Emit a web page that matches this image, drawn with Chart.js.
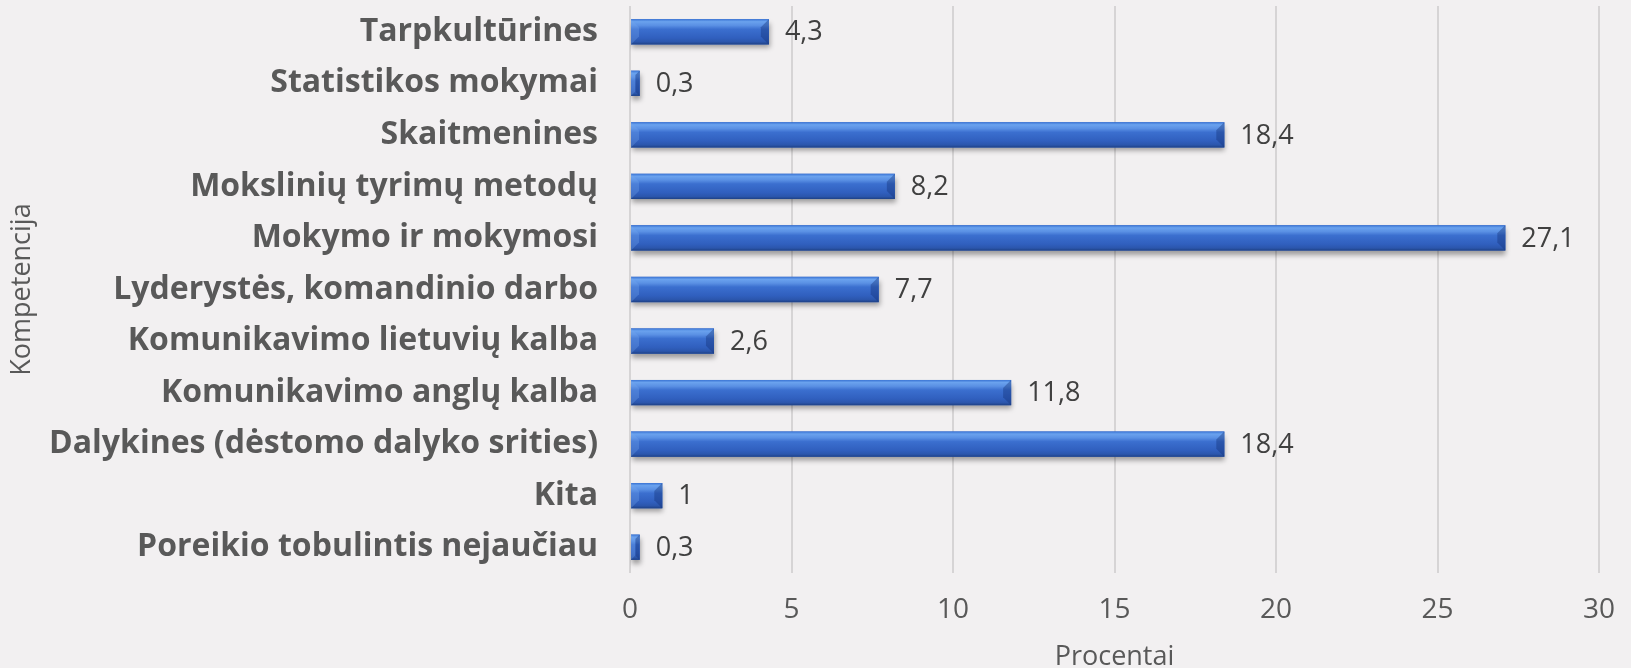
<!DOCTYPE html>
<html lang="lt">
<head>
<meta charset="UTF-8">
<title>Kompetencijos</title>
<script src="https://cdn.jsdelivr.net/npm/chart.js"></script>
<style>
    html, body { margin: 0; padding: 0; background: #f2f0f1; }
    #wrap { width: 1631px; height: 668px; }
</style>
</head>
<body>
<div id="wrap"><canvas id="chart" width="1631" height="668"></canvas></div>
<script>
    // categories top to bottom
    const categories = [
        'Tarpkultūrines',
        'Statistikos mokymai',
        'Skaitmenines',
        'Mokslinių tyrimų metodų',
        'Mokymo ir mokymosi',
        'Lyderystės, komandinio darbo',
        'Komunikavimo lietuvių kalba',
        'Komunikavimo anglų kalba',
        'Dalykines (dėstomo dalyko srities)',
        'Kita',
        'Poreikio tobulintis nejaučiau'
    ];
    const percents = [4.3, 0.3, 18.4, 8.2, 27.1, 7.7, 2.6, 11.8, 18.4, 1, 0.3];
    const xTicks = [0, 5, 10, 15, 20, 25, 30];

    const FONT = "'Open Sans', sans-serif";

    // shadow under the bars + bevel-ish gradient on top
    const bevelBars = {
        id: 'bevelBars',
        beforeDatasetsDraw(chart) {
            const ctx = chart.ctx;
            ctx.save();
            ctx.shadowColor = 'rgba(0,0,0,0.35)';
            ctx.shadowBlur = 5;
            ctx.shadowOffsetX = 1;
            ctx.shadowOffsetY = 4;
        },
        afterDatasetsDraw(chart) {
            const ctx = chart.ctx;
            ctx.restore();
            const meta = chart.getDatasetMeta(0);
            meta.data.forEach(el => {
                const p = el.getProps(['x', 'y', 'base', 'height'], true);
                const left = p.base, right = p.x;
                const top = p.y - p.height / 2, bottom = p.y + p.height / 2;
                const g = ctx.createLinearGradient(0, top, 0, bottom);
                g.addColorStop(0, '#3a74d4');
                g.addColorStop(0.1, '#6aa2ee');
                g.addColorStop(0.25, '#5a90e4');
                g.addColorStop(0.4, '#3b6fcf');
                g.addColorStop(0.75, '#305fbe');
                g.addColorStop(0.9, '#2b56ac');
                g.addColorStop(1, '#1e4186');
                ctx.save();
                ctx.fillStyle = g;
                ctx.fillRect(left, top, right - left, bottom - top);
                // end bevels
                const b = Math.min(8, (right - left) / 2);
                ctx.fillStyle = 'rgba(20,50,120,0.4)';
                ctx.beginPath();
                ctx.moveTo(right, top);
                ctx.lineTo(right, bottom);
                ctx.lineTo(right - b, bottom - b);
                ctx.lineTo(right - b, top + b);
                ctx.closePath();
                ctx.fill();
                ctx.fillStyle = 'rgba(120,170,240,0.3)';
                ctx.beginPath();
                ctx.moveTo(left, top);
                ctx.lineTo(left, bottom);
                ctx.lineTo(left + b, bottom - b);
                ctx.lineTo(left + b, top + b);
                ctx.closePath();
                ctx.fill();
                ctx.restore();
            });
        }
    };

    const valueLabels = {
        id: 'valueLabels',
        afterDraw(chart) {
            const ctx = chart.ctx;
            const meta = chart.getDatasetMeta(0);
            ctx.save();
            ctx.font = '27px ' + FONT;
            ctx.fillStyle = '#404040';
            ctx.textAlign = 'left';
            ctx.textBaseline = 'middle';
            meta.data.forEach((el, i) => {
                const txt = String(percents[i]).replace('.', ',');
                ctx.fillText(txt, el.x + 16, el.y + 1);
            });
            ctx.restore();
        }
    };

    new Chart(document.getElementById('chart'), {
        type: 'bar',
        data: {
            labels: categories,
            datasets: [{
                data: percents,
                backgroundColor: '#3464c4',
                borderWidth: 0,
                barPercentage: 0.49,
                categoryPercentage: 1
            }]
        },
        options: {
            indexAxis: 'y',
            responsive: false,
            animation: false,
            layout: { padding: { left: 6, top: 6, right: 32, bottom: 0 } },
            plugins: {
                legend: { display: false },
                tooltip: { enabled: false }
            },
            scales: {
                x: {
                    min: 0,
                    max: 30,
                    afterBuildTicks(scale) {
                        scale.ticks = xTicks.map(v => ({ value: v }));
                    },
                    afterFit(scale) {
                        scale.height = 95;
                        scale.paddingLeft = 0;
                        scale.paddingRight = 0;
                    },
                    grid: { color: '#d6d4d5', lineWidth: 2, drawTicks: false },
                    border: { display: false },
                    ticks: {
                        color: '#595959',
                        font: { family: FONT, size: 28 },
                        padding: 20
                    },
                    title: {
                        display: true,
                        text: 'Procentai',
                        color: '#595959',
                        font: { family: FONT, size: 27 },
                        padding: { top: 0, bottom: -6 }
                    }
                },
                y: {
                    afterFit(scale) {
                        scale.width = 624;
                        scale.paddingTop = 0;
                        scale.paddingBottom = 0;
                    },
                    grid: { display: false },
                    border: { display: false },
                    ticks: {
                        color: '#595959',
                        font: { family: FONT, size: 32, weight: 'bold' },
                        padding: 24
                    },
                    title: {
                        display: true,
                        text: 'Kompetencija',
                        color: '#595959',
                        font: { family: FONT, size: 27 },
                        padding: { top: 0, bottom: 0 }
                    }
                }
            }
        },
        plugins: [bevelBars, valueLabels]
    });
</script>
</body>
</html>
